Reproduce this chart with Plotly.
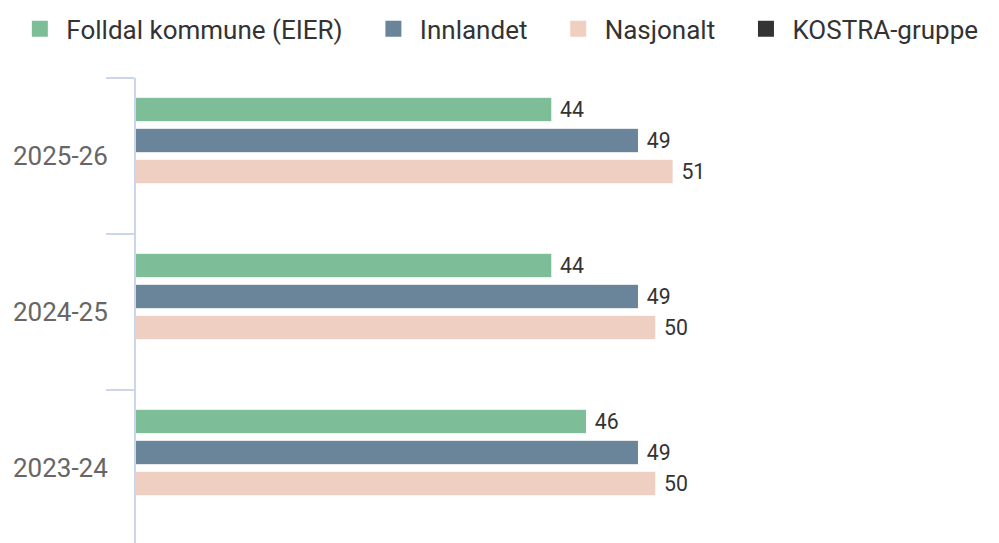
import plotly.graph_objects as go

# categories, top to bottom
years = ['2025-26', '2024-25', '2023-24']

folldal = [44, 44, 46]
innlandet = [49, 49, 49]
nasjonalt = [51, 50, 50]
kostra = [None, None, None]

series = [
  ('Folldal kommune (EIER)', folldal, '#7dbe99'),
  ('Innlandet', innlandet, '#6a8599'),
  ('Nasjonalt', nasjonalt, '#eecfc1'),
  ('KOSTRA-gruppe', kostra, '#333333'),
]

fig = go.Figure()
for name, vals, col in series:
  fig.add_trace(go.Bar(
    y=years, x=vals, name=name, orientation='h',
    marker=dict(color=col, line=dict(color='white', width=1)),
    text=vals, texttemplate='\u00a0%{x}', textposition='outside',
    textfont=dict(size=26, color='#333333', family='Roboto'),
    cliponaxis=False, showlegend=False))

# legend entries with bigger squares (padding spaces widen the gap between items)
sp = '\u00a0'
for i, (name, vals, col) in enumerate(series):
  fig.add_trace(go.Scatter(
    x=[None], y=[None], name=sp + name + (sp * 4 if i < 3 else ''), mode='markers',
    marker=dict(symbol='square', size=22, color=col)))

fig.update_layout(
  width=999, height=543,
  margin=dict(l=128, r=22, t=70, b=5, autoexpand=False),
  paper_bgcolor='white', plot_bgcolor='white',
  font=dict(family='Roboto', color='#333333'),
  barmode='group', bargap=0.205, bargroupgap=0.21,
  legend=dict(orientation='h', x=-0.1368, y=1.105, xanchor='left', yanchor='middle',
              font=dict(size=26, color='#333333'),
              traceorder='normal'),
)
fig.update_xaxes(range=[20, 69], visible=False, showgrid=False)
fig.update_yaxes(
  autorange=False, range=[2.5, -0.5], categoryorder='array', categoryarray=years,
  showline=True, linecolor='#ccd6eb', linewidth=2, automargin=False,
  ticks='outside', ticklen=28, tickcolor='#ccd6eb', tickwidth=2,
  tickson='boundaries', showgrid=False, ticklabelstandoff=21,
  tickfont=dict(size=26, color='#666666', family='Roboto'))

fig.write_html("out.html")
